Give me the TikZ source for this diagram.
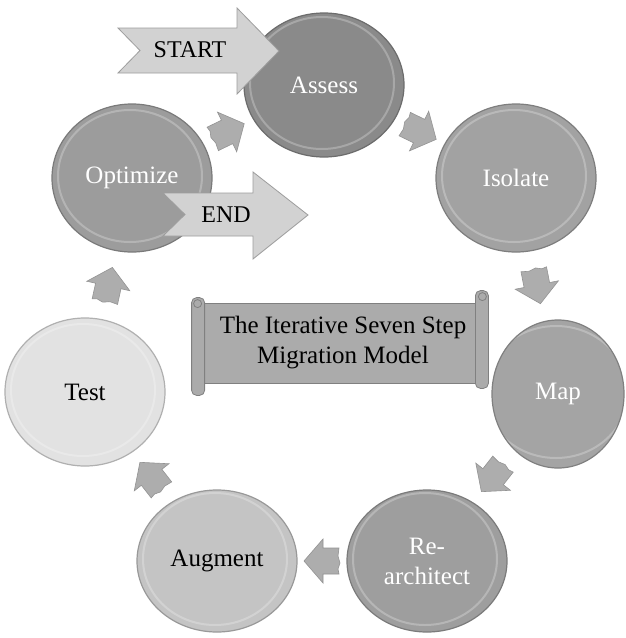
\documentclass[tikz,border=0pt]{standalone}
\usepackage{fontspec}
\setmainfont{Liberation Serif}
\usetikzlibrary{shapes.geometric,calc}
\definecolor{cAssess}{HTML}{8A8A8A}
\definecolor{cOpt}{HTML}{9C9C9C}
\definecolor{cIso}{HTML}{A2A2A2}
\definecolor{cMap}{HTML}{A4A4A4}
\definecolor{cRe}{HTML}{9E9E9E}
\definecolor{cAug}{HTML}{C4C4C4}
\definecolor{cTest}{HTML}{E2E2E2}
\definecolor{cBlk}{HTML}{ADADAD}
\definecolor{cSE}{HTML}{D2D2D2}
\definecolor{cBan}{HTML}{ABABAB}
\tikzset{
  circ/.style={ellipse, minimum width=160pt, minimum height=148pt, inner sep=0pt,
    fill=#1, draw=#1!78!black, line width=1.2pt, align=center,
    font=\fontsize{25}{30}\selectfont, text=white,
    path picture={\draw[white, opacity=0.25, line width=2pt]
      ([shift={(-2,-2)}]path picture bounding box.center) ellipse (72pt and 66pt);}},
  blk/.style={fill=cBlk, draw=cBlk!85!black, line width=0.6pt},
  sebox/.style={fill=cSE, draw=cSE!75!black, line width=0.8pt},
  setext/.style={font=\fontsize{24}{28}\selectfont, text=black, inner sep=0pt},
  banner/.style={fill=cBan, draw=cBan!75!black, line width=0.8pt}
}
\begin{document}
\begin{tikzpicture}[x=1pt,y=-1pt]
\useasboundingbox (0,0) rectangle (625,638);
\clip (0,0) rectangle (625,638);
\fill[white] (0,0) rectangle (625,638);

% circles
\node[circ=cAssess, minimum height=144pt] (assess) at (324,85) {Assess};
\node[circ=cIso] (isolate) at (516,178) {Isolate};
\node[circ=cMap, minimum width=132pt] (map) at (558,394) {Map};
\node[circ=cRe, minimum height=142pt] (rearch) at (427,561) {Re-\\architect};
\node[circ=cAug, text=black, minimum height=142pt] (augment) at (217,561) {Augment};
\node[circ=cTest, text=black] (test) at (85,392) {Test};
\node[circ=cOpt] (optimize) at (132,178) {Optimize};

% block arrows between steps
\foreach \a/\b in {optimize/assess, assess/isolate, isolate/map, map/rearch,
                   rearch/augment, augment/test, test/optimize}{
  \pgfmathanglebetweenpoints{\pgfpointanchor{\a}{center}}{\pgfpointanchor{\b}{center}}
  \let\ang\pgfmathresult
  \begin{scope}[shift={($(\a.center)!0.5!(\b.center)$)}, rotate=\ang]
    \draw[blk] (-17,-13) -- (-1,-13) -- (-1,-22) -- (18,0) -- (-1,22) -- (-1,13)
      -- (-17,13) -- (-16,5) -- (-18,-2) -- (-16,-8) -- cycle;
  \end{scope}
}

% START arrow
\node[setext] (start) at (190,50) {START};
\coordinate (startend) at (279,51);
\draw[sebox] (118,28) -- (237,28) -- (237,8) -- (startend) -- (237,94) -- (237,73)
  -- (118,73) -- (140,50.5) -- cycle;
\node[setext] at (start) {START};

% END arrow
\node[setext] (endn) at (226,215) {END};
\coordinate (endtip) at (308,215);
\draw[sebox] (163,193) -- (253,193) -- (253,172) -- (endtip) -- (253,259) -- (253,236)
  -- (163,236) -- (185,214.5) -- cycle;
\node[setext] at (endn) {END};

% banner scroll
\node[banner, minimum width=282pt, minimum height=80pt, inner sep=0pt] (title) at (340,343) {};
\draw[banner, rounded corners=5pt] ($(title.north west)+(-7,-5)$) rectangle ($(title.south west)+(6,12)$);
\draw[banner, rounded corners=5pt] ($(title.north east)+(-6,-12)$) rectangle ($(title.south east)+(7,5)$);
\draw[banner] ($(title.north west)+(-1,1)$) circle (4pt);
\draw[banner] ($(title.north east)+(1,-6)$) circle (4pt);
\node[align=center, font=\fontsize{25}{30}\selectfont, inner sep=0pt] (titletext) at (343,343)
  {The Iterative Seven Step\\Migration Model};
\end{tikzpicture}
\end{document}
